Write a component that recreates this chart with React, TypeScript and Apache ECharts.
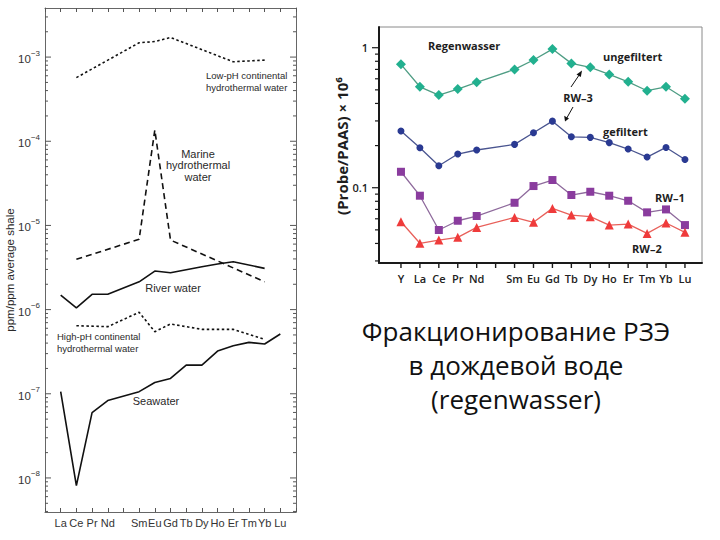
import React, { useEffect, useRef } from 'react';
import * as echarts from 'echarts';

// ---------- Left chart data ----------
const REE_LEFT = ['La', 'Ce', 'Pr', 'Nd', 'Pm', 'Sm', 'Eu', 'Gd', 'Tb', 'Dy', 'Ho', 'Er', 'Tm', 'Yb', 'Lu'];
const LOW_PH_CONT = [null, 5.7e-4, null, null, null, 1.48e-3, 1.53e-3, 1.71e-3, null, null, null, 8.8e-4, 9.0e-4, 9.2e-4, null];
const MARINE_HYDRO = [null, 3.96e-6, null, null, null, 6.84e-6, 1.36e-4, 6.7e-6, null, null, null, null, null, 2.14e-6, null];
const RIVER_WATER = [1.49e-6, 1.05e-6, 1.52e-6, 1.52e-6, null, 2.14e-6, 2.87e-6, 2.74e-6, null, 3.23e-6, 3.48e-6, 3.71e-6, null, 3.09e-6, null];
const HIGH_PH_CONT = [null, 6.44e-7, null, 6.27e-7, null, 9.29e-7, 5.47e-7, 6.75e-7, null, 5.83e-7, null, 5.83e-7, null, 4.43e-7, null];
const SEAWATER = [1.06e-7, 8.1e-9, 5.97e-8, 8.3e-8, null, 1.06e-7, 1.36e-7, 1.52e-7, 2.19e-7, 2.19e-7, 3.22e-7, 3.72e-7, 4.08e-7, 3.9e-7, 5.13e-7];
const LEFT_Y_MAJOR = [1e-8, 1e-7, 1e-6, 1e-5, 1e-4, 1e-3];
const LEFT_Y_MIN = 3.94e-9;
const LEFT_Y_MAX = 3.83e-3;
const LEFT_X_MIN = 0;
const LEFT_X_MAX = 16;

// ---------- Right chart data ----------
const REE_RIGHT = ['Y', 'La', 'Ce', 'Pr', 'Nd', 'Pm', 'Sm', 'Eu', 'Gd', 'Tb', 'Dy', 'Ho', 'Er', 'Tm', 'Yb', 'Lu'];
const RW3_UNGEFILTERT = [0.761, 0.526, 0.459, 0.507, 0.566, null, 0.700, 0.817, 0.978, 0.773, 0.724, 0.645, 0.571, 0.493, 0.526, 0.432];
const RW3_GEFILTERT = [0.254, 0.193, 0.1435, 0.174, 0.186, null, 0.204, 0.247, 0.299, 0.231, 0.229, 0.210, 0.189, 0.1656, 0.194, 0.159];
const RW1 = [0.130, 0.0877, 0.0499, 0.0581, 0.0628, null, 0.0781, 0.1028, 0.1135, 0.0887, 0.0936, 0.0877, 0.0807, 0.0667, 0.070, 0.0541];
const RW2 = [0.0571, 0.0401, 0.0423, 0.0442, 0.0521, null, 0.0614, 0.0566, 0.0712, 0.0638, 0.0621, 0.0541, 0.0550, 0.0472, 0.0560, 0.0480];
const RIGHT_Y_MAJOR = [0.1, 1];
const RIGHT_Y_MIN = 0.029;
const RIGHT_Y_MAX = 1.406;
const RIGHT_X_MIN = -1.16;
const RIGHT_X_MAX = 15.9;

const logMinorTicks = (majors: number[], lo: number, hi: number) => {
  const out: number[] = [];
  const decades = [majors[0] / 10, ...majors];
  decades.forEach((d) => {
    for (let k = 2; k <= 9; k++) {
      const v = parseFloat((k * d).toPrecision(6));
      if (v >= lo && v <= hi) out.push(v);
    }
  });
  return out;
};

const pairs = (vals: (number | null)[], offset: number) =>
  vals
    .map((v, i) => (v == null ? null : [i + offset, v]))
    .filter((p) => p !== null) as number[][];

const LEFT_FONT = '"Liberation Sans", Arial, sans-serif';
const RIGHT_FONT = '"Open Sans", "Noto Sans", sans-serif';

// tick marks drawn through the axes' own scales
const tickSeries = (xi: number, yi: number, data: number[][], dx: number, dy: number, color: string, width: number) => ({
  type: 'custom',
  xAxisIndex: xi,
  yAxisIndex: yi,
  clip: false,
  silent: true,
  z: 6,
  encode: { x: 0, y: 1 },
  data,
  renderItem: (_p: any, api: any) => {
    const pt = api.coord([api.value(0), api.value(1)]);
    const l = api.value(2);
    return {
      type: 'line',
      shape: { x1: pt[0], y1: pt[1], x2: pt[0] + dx * l, y2: pt[1] + dy * l },
      style: { stroke: color, lineWidth: width },
    };
  },
});

export default function App() {
  const ref = useRef<HTMLDivElement>(null);

  useEffect(() => {
    if (!ref.current) return;
    const chart = echarts.init(ref.current, null, { renderer: 'svg' });

    const leftMinor = logMinorTicks(LEFT_Y_MAJOR, LEFT_Y_MIN, LEFT_Y_MAX);
    const rightMinor = logMinorTicks(RIGHT_Y_MAJOR, RIGHT_Y_MIN, RIGHT_Y_MAX);
    const rightIdx = REE_RIGHT.map((_, i) => i);

    const leftTicksAt = (x: number) => [
      ...leftMinor.map((v) => [x, v, 3]),
      ...LEFT_Y_MAJOR.map((v) => [x, v, 6]),
    ];
    const rightYTicks = [
      ...rightMinor.map((v) => [RIGHT_X_MIN, v, 4]),
      ...RIGHT_Y_MAJOR.map((v) => [RIGHT_X_MIN, v, 7]),
    ];
    const rightXTicks = rightIdx.map((i) => [i, RIGHT_Y_MIN, 5]);

    const leftLine = (name: string, vals: (number | null)[], type: any) => ({
      name,
      type: 'line',
      xAxisIndex: 0,
      yAxisIndex: 0,
      data: pairs(vals, 1),
      symbol: 'none',
      showSymbol: false,
      lineStyle: { color: '#111', width: 1.6, type },
      z: 3,
    });

    const rightLine = (name: string, vals: (number | null)[], color: string, lineColor: string, symbol: string, size: number) => ({
      name,
      type: 'line',
      xAxisIndex: 2,
      yAxisIndex: 2,
      data: pairs(vals, 0),
      symbol,
      symbolSize: size,
      itemStyle: { color },
      lineStyle: { color: lineColor, width: 1.3 },
      z: 3,
    });

    const leftText = (text: string, x: number, y: number, size: number, align: string, lh?: number) => ({
      type: 'text',
      x,
      y,
      style: {
        text,
        fontFamily: LEFT_FONT,
        fontSize: size,
        fill: '#2a2a2a',
        align,
        verticalAlign: 'top',
        lineHeight: lh || size + 2,
      },
    });
    const rightText = (text: string, x: number, y: number, align: string) => ({
      type: 'text',
      x,
      y,
      style: {
        text,
        fontFamily: RIGHT_FONT,
        fontWeight: 'bold',
        fontSize: 11,
        fill: '#1e1e1e',
        align,
        verticalAlign: 'middle',
      },
    });

    const option: any = {
      animation: false,
      backgroundColor: '#ffffff',
      grid: [
        { left: 45, top: 8, width: 251, height: 504, show: false, outerBoundsMode: 'none', containLabel: false },
        { left: 379, top: 27, width: 323, height: 236, show: true, borderColor: '#8a8a8a', borderWidth: 1, outerBoundsMode: 'none', containLabel: false },
      ],
      xAxis: [
        {
          gridIndex: 0, type: 'value', min: LEFT_X_MIN, max: LEFT_X_MAX, interval: 1, position: 'bottom',
          axisLine: { show: true, onZero: false, lineStyle: { color: '#666', width: 1 } },
          axisTick: { show: true, inside: true, length: 4, lineStyle: { color: '#555' } },
          axisLabel: {
            margin: 5, fontFamily: LEFT_FONT, fontSize: 11, color: '#333',
            formatter: (v: number) => {
              const e = REE_LEFT[v - 1];
              return e && e !== 'Pm' ? e : '';
            },
          },
          splitLine: { show: false },
        },
        {
          gridIndex: 0, type: 'value', min: LEFT_X_MIN, max: LEFT_X_MAX, interval: 1, position: 'top',
          axisLine: { show: true, onZero: false, lineStyle: { color: '#666', width: 1 } },
          axisTick: { show: true, inside: true, length: 4, lineStyle: { color: '#555' } },
          axisLabel: { show: false },
          splitLine: { show: false },
        },
        {
          gridIndex: 1, type: 'value', min: RIGHT_X_MIN, max: RIGHT_X_MAX, position: 'bottom',
          axisLine: { show: true, onZero: false, lineStyle: { color: '#1a1a1a', width: 2 } },
          axisTick: { show: false },
          axisLabel: {
            customValues: rightIdx, margin: 10, fontFamily: RIGHT_FONT, fontWeight: 600, fontSize: 11, color: '#222',
            formatter: (v: number) => {
              const e = REE_RIGHT[Math.round(v)];
              return e && e !== 'Pm' ? e : '';
            },
          },
          splitLine: { show: false },
        },
      ],
      yAxis: [
        {
          gridIndex: 0, type: 'log', min: LEFT_Y_MIN, max: LEFT_Y_MAX, position: 'left',
          axisLine: { show: true, onZero: false, lineStyle: { color: '#666', width: 1 } },
          axisTick: { show: false },
          axisLabel: {
            customValues: LEFT_Y_MAJOR, margin: 5,
            formatter: (v: number) => `{b|10}{s|−${Math.round(-Math.log10(v))}}`,
            rich: {
              b: { fontFamily: LEFT_FONT, fontSize: 11.5, color: '#333', lineHeight: 16, verticalAlign: 'bottom' },
              s: { fontFamily: LEFT_FONT, fontSize: 8, color: '#333', lineHeight: 16, verticalAlign: 'top' },
            },
          },
          splitLine: { show: false },
        },
        {
          gridIndex: 0, type: 'log', min: LEFT_Y_MIN, max: LEFT_Y_MAX, position: 'right',
          axisLine: { show: true, onZero: false, lineStyle: { color: '#666', width: 1 } },
          axisTick: { show: false },
          axisLabel: { show: false },
          splitLine: { show: false },
        },
        {
          gridIndex: 1, type: 'log', min: RIGHT_Y_MIN, max: RIGHT_Y_MAX, position: 'left',
          axisLine: { show: true, onZero: false, lineStyle: { color: '#1a1a1a', width: 2 } },
          axisTick: { show: false },
          axisLabel: {
            customValues: RIGHT_Y_MAJOR, margin: 11, fontFamily: RIGHT_FONT, fontWeight: 600, fontSize: 11, color: '#222',
            formatter: (v: number) => (v >= 1 ? '1' : '0.1'),
          },
          splitLine: { show: false },
        },
      ],
      series: [
        leftLine('Low-pH continental hydrothermal water', LOW_PH_CONT, [2.5, 2.5]),
        leftLine('Marine hydrothermal water', MARINE_HYDRO, [6, 4]),
        leftLine('River water', RIVER_WATER, 'solid'),
        leftLine('High-pH continental hydrothermal water', HIGH_PH_CONT, [2.5, 2.5]),
        leftLine('Seawater', SEAWATER, 'solid'),
        rightLine('RW-3 ungefiltert', RW3_UNGEFILTERT, '#22b08f', '#4f9d84', 'diamond', 10),
        rightLine('RW-3 gefiltert', RW3_GEFILTERT, '#2a3a92', '#4a5590', 'circle', 7),
        rightLine('RW-1', RW1, '#8a3c9e', '#8e6a9c', 'rect', 8),
        rightLine('RW-2', RW2, '#ef3b3b', '#e8605a', 'triangle', 9),
        tickSeries(0, 0, leftTicksAt(LEFT_X_MIN), 1, 0, '#555', 1),
        tickSeries(0, 0, leftTicksAt(LEFT_X_MAX), -1, 0, '#555', 1),
        tickSeries(2, 2, rightYTicks, -1, 0, '#1a1a1a', 1.2),
        tickSeries(2, 2, rightXTicks, 0, 1, '#1a1a1a', 1.4),
      ],
      graphic: [
        leftText('Low-pH continental\nhydrothermal water', 206, 69, 9.5, 'left', 12),
        leftText('Marine\nhydrothermal\nwater', 198, 148, 11, 'center', 11.5),
        leftText('River water', 173, 281, 11, 'center'),
        leftText('High-pH continental\nhydrothermal water', 57, 330, 9.5, 'left', 12),
        leftText('Seawater', 156, 394, 11, 'center'),
        {
          type: 'text', x: 10, y: 270, rotation: Math.PI / 2,
          style: { text: 'ppm/ppm average shale', fontFamily: LEFT_FONT, fontSize: 11.5, fill: '#2a2a2a', align: 'center', verticalAlign: 'middle' },
        },
        rightText('Regenwasser', 428, 45, 'left'),
        rightText('ungefiltert', 603, 56, 'left'),
        rightText('RW–3', 578, 97, 'center'),
        rightText('gefiltert', 603, 131, 'left'),
        rightText('RW–1', 655, 197, 'left'),
        rightText('RW–2', 632, 248, 'left'),
        {
          type: 'text', x: 342, y: 146, rotation: Math.PI / 2,
          style: { text: '(Probe/PAAS) × 10⁶', fontFamily: RIGHT_FONT, fontWeight: 'bold', fontSize: 15, fill: '#1e1e1e', align: 'center', verticalAlign: 'middle' },
        },
        { type: 'line', shape: { x1: 571, y1: 87, x2: 580.5, y2: 73 }, style: { stroke: '#111', lineWidth: 1 } },
        { type: 'polygon', shape: { points: [[582, 70.5], [576.5, 74.5], [580.8, 77]] }, style: { fill: '#111' } },
        { type: 'line', shape: { x1: 573, y1: 107, x2: 566.5, y2: 118.5 }, style: { stroke: '#111', lineWidth: 1 } },
        { type: 'polygon', shape: { points: [[565, 121.5], [564.2, 115.8], [569, 118.5]] }, style: { fill: '#111' } },
        {
          type: 'text', x: 516, y: 365,
          style: {
            text: 'Фракционирование РЗЭ\nв дождевой воде\n(regenwasser)',
            fontFamily: RIGHT_FONT, fontSize: 26, lineHeight: 34, fill: '#111', align: 'center', verticalAlign: 'middle',
          },
        },
      ],
    };

    chart.setOption(option);
    return () => chart.dispose();
  }, []);

  return <div ref={ref} style={{ position: 'absolute', left: 0, top: 0, width: 720, height: 540 }} />;
}
